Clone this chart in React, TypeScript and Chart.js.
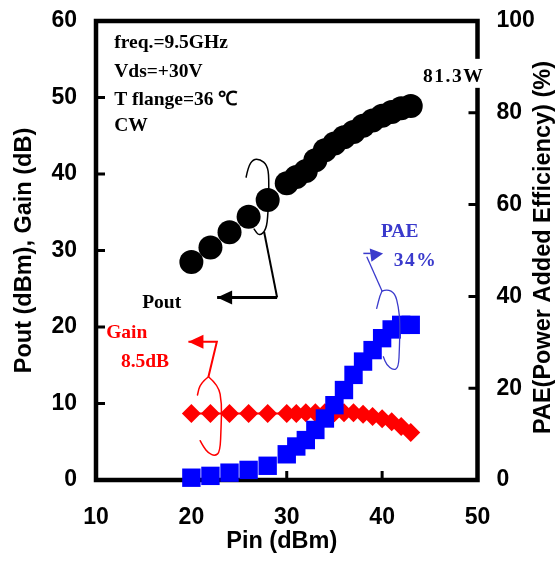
import React, { useEffect, useRef } from 'react';
import { Chart, registerables } from 'chart.js';

Chart.register(...registerables);

// ---------- data ----------
const pinDbm = [20, 22, 24, 26, 28, 30, 31, 32, 33, 34, 35, 36, 37, 38, 39, 40, 41, 42, 43];
const poutDbm = [28.5, 30.4, 32.4, 34.4, 36.6, 38.8, 39.6, 40.4, 41.8, 43.1, 44.0, 44.8, 45.5, 46.3, 47.0, 47.6, 48.1, 48.6, 48.9];
const gainDb = [8.7, 8.7, 8.7, 8.7, 8.7, 8.7, 8.7, 8.8, 8.8, 8.8, 8.8, 8.8, 8.8, 8.6, 8.3, 8.0, 7.6, 7.0, 6.2];
const paePct = [0.5, 0.9, 1.6, 2.2, 3.1, 5.6, 7.3, 8.7, 10.9, 13.4, 16.3, 19.6, 22.9, 25.8, 28.3, 30.9, 32.8, 33.8, 33.8];

const xTitle = 'Pin (dBm)';
const yTitle = 'Pout (dBm), Gain (dB)';
const y2Title = 'PAE(Power Added Efficiency) (%)';

// annotation texts: [text, x (dBm), y (left axis units), colour]
const infoLines = ['freq.=9.5GHz', 'Vds=+30V', 'T flange=36 ℃', 'CW'];
const infoX = 11.91;
const infoY = [57.17, 53.31, 49.72, 46.26];
type Txt = [string, number, number, string];
const labelTexts: Txt[] = [
  ['Pout', 14.84, 23.09, '#000000'],
  ['Gain', 11.07, 19.17, '#ff0000'],
  ['8.5dB', 12.61, 15.46, '#ff0000'],
  ['PAE', 39.87, 32.46, '#3a3acc'],
  ['34%', 41.21, 28.62, '#3a3acc'],
];
const powerLabel: Txt = ['81.3W', 44.29, 52.7, '#000000'];

// hand-drawn callouts, in data units (x: Pin dBm, y: left axis)
type P = [number, number];
const poutLoop: P[] = [[25.74, 39.59], [25.95, 40.9], [26.47, 41.94], [27.21, 41.94], [27.94, 41.16], [28.15, 39.59], [28.05, 34.89], [27.84, 32.67], [27.1, 31.88], [26.58, 32.8]];
const poutLeader: P[] = [[27.63, 32.41], [28.99, 23.85], [22.7, 23.85]];
const gainLeader: P[] = [[19.69, 18.07], [22.67, 18.07], [21.79, 13.5]];
const gainLoopA: P[] = [[21.79, 13.5], [20.92, 12.64], [20.64, 11.11]];
const gainLoopB: P[] = [[21.79, 13.5], [22.84, 12.41], [23.19, 10.02], [23.12, 6.96], [23.01, 3.7], [22.49, 3.14], [21.79, 3.49], [21.26, 4.35], [20.92, 5.14]];
const paeFlag: P[] = [[38.7, 30.27], [40.1, 29.62], [38.88, 28.52]];
const paeStem: P[] = [[38.03, 29.62], [38.8, 29.62]];
const paeLeader: P[] = [[38.39, 29.18], [39.99, 24.7]];
const paeLoopA: P[] = [[39.99, 24.7], [40.51, 24.96], [41.35, 24.43], [41.72, 22.61], [41.88, 20.51], [41.82, 17.38], [41.72, 14.63], [41.14, 14.37], [40.48, 15.03], [40.13, 16.11]];
const paeLoopB: P[] = [[39.99, 24.7], [39.78, 24.17], [39.43, 22.44]];

const SANS = '"Liberation Sans", Arial, sans-serif';
const SERIF = '"Liberation Serif", "Times New Roman", serif';

const decoPlugin = {
  id: 'deco',
  beforeDatasetsDraw(chart: any) {
    const { ctx, chartArea: a, scales } = chart;
    ctx.save();
    ctx.strokeStyle = '#000';
    ctx.lineWidth = 4.5;
    ctx.strokeRect(a.left, a.top, a.right - a.left, a.bottom - a.top);
    ctx.lineWidth = 3;
    const tl = 9;
    ctx.beginPath();
    for (const t of scales.y.ticks) {
      if (t.value <= scales.y.min || t.value >= scales.y.max) continue;
      const py = scales.y.getPixelForValue(t.value);
      ctx.moveTo(a.left, py); ctx.lineTo(a.left + tl, py);
    }
    for (const t of scales.y2.ticks) {
      if (t.value <= scales.y2.min || t.value >= scales.y2.max) continue;
      const py = scales.y2.getPixelForValue(t.value);
      ctx.moveTo(a.right, py); ctx.lineTo(a.right - tl, py);
    }
    for (const t of scales.x.ticks) {
      if (t.value <= scales.x.min || t.value >= scales.x.max) continue;
      const px = scales.x.getPixelForValue(t.value);
      ctx.moveTo(px, a.bottom); ctx.lineTo(px, a.bottom - tl);
    }
    ctx.stroke();

    // axis titles drawn by hand (right one reads bottom-to-top)
    ctx.fillStyle = '#000';
    ctx.font = `bold 23.5px ${SANS}`;
    ctx.textAlign = 'center';
    ctx.textBaseline = 'middle';
    ctx.fillText(xTitle, (a.left + a.right) / 2 - 5, 542);
    ctx.save();
    ctx.translate(543.5, (a.top + a.bottom) / 2 - 3);
    ctx.rotate(-Math.PI / 2);
    ctx.fillText(y2Title, 0, 0);
    ctx.restore();
    ctx.restore();
  },
  afterDatasetsDraw(chart: any) {
    const { ctx, scales } = chart;
    const px = (p: P): P => [scales.x.getPixelForValue(p[0]), scales.y.getPixelForValue(p[1])];
    const smooth = (pts: P[], color: string, w: number) => {
      const q = pts.map(px);
      ctx.beginPath();
      ctx.strokeStyle = color;
      ctx.lineWidth = w;
      ctx.lineJoin = 'round';
      ctx.lineCap = 'round';
      ctx.moveTo(q[0][0], q[0][1]);
      if (q.length < 3) {
        for (let i = 1; i < q.length; i++) ctx.lineTo(q[i][0], q[i][1]);
      } else {
        for (let i = 1; i < q.length - 1; i++) {
          const mx = (q[i][0] + q[i + 1][0]) / 2;
          const my = (q[i][1] + q[i + 1][1]) / 2;
          ctx.quadraticCurveTo(q[i][0], q[i][1], mx, my);
        }
        const l = q[q.length - 1];
        ctx.lineTo(l[0], l[1]);
      }
      ctx.stroke();
    };
    const poly = (pts: P[], color: string, w: number) => {
      const q = pts.map(px);
      ctx.beginPath();
      ctx.strokeStyle = color;
      ctx.lineWidth = w;
      ctx.lineJoin = 'miter';
      ctx.lineCap = 'butt';
      ctx.moveTo(q[0][0], q[0][1]);
      for (let i = 1; i < q.length; i++) ctx.lineTo(q[i][0], q[i][1]);
      ctx.stroke();
    };
    const headLeft = (tip: P, color: string) => {
      const [x, y] = px(tip);
      ctx.beginPath();
      ctx.fillStyle = color;
      ctx.moveTo(x, y);
      ctx.lineTo(x + 15, y - 7);
      ctx.lineTo(x + 15, y + 7);
      ctx.closePath();
      ctx.fill();
    };
    const fillPoly = (pts: P[], color: string) => {
      const q = pts.map(px);
      ctx.beginPath();
      ctx.fillStyle = color;
      ctx.moveTo(q[0][0], q[0][1]);
      for (let i = 1; i < q.length; i++) ctx.lineTo(q[i][0], q[i][1]);
      ctx.closePath();
      ctx.fill();
    };

    ctx.save();
    // Pout callout
    smooth(poutLoop, '#000', 1.5);
    poly(poutLeader.slice(0, 2), '#000', 2);
    poly(poutLeader.slice(1), '#000', 3);
    headLeft(poutLeader[2], '#000');
    // Gain callout
    poly(gainLeader, '#ff0000', 2);
    headLeft(gainLeader[0], '#ff0000');
    smooth(gainLoopA, '#ff0000', 1.5);
    smooth(gainLoopB, '#ff0000', 1.5);
    // PAE callout
    fillPoly(paeFlag, '#3a3acc');
    poly(paeStem, '#3a3acc', 1.5);
    poly(paeLeader, '#3a3acc', 1.3);
    smooth(paeLoopA, '#3a3acc', 1.3);
    smooth(paeLoopB, '#3a3acc', 1.3);

    // texts
    ctx.font = `bold 19.5px ${SERIF}`;
    ctx.textAlign = 'left';
    ctx.textBaseline = 'middle';
    ctx.fillStyle = '#000';
    infoLines.forEach((t, i) => {
      const [x, y] = px([infoX, infoY[i]]);
      ctx.fillText(t, x, y);
    });
    for (const [t, tx, ty, c] of labelTexts) {
      const [x, y] = px([tx, ty]);
      ctx.fillStyle = c;
      try { (ctx as any).letterSpacing = t === '34%' ? '1.5px' : '0px'; } catch (e) {}
      ctx.fillText(t, x, y);
    }
    // power label sits on a white box that breaks the frame
    {
      const [t, tx, ty, c] = powerLabel;
      const [x, y] = px([tx, ty]);
      try { (ctx as any).letterSpacing = '1.5px'; } catch (e) {}
      const w = ctx.measureText(t).width;
      ctx.fillStyle = '#ffffff';
      ctx.fillRect(x - 2, y - 18, w + 6, 29);
      ctx.fillStyle = c;
      ctx.fillText(t, x, y);
    }
    ctx.restore();
  },
};

export default function App() {
  const ref = useRef<HTMLCanvasElement | null>(null);
  useEffect(() => {
    if (!ref.current) return;
    const tickFont = { family: SANS, size: 23, weight: 'bold' as const };
    const titleFont = { family: SANS, size: 23.5, weight: 'bold' as const };
    const chart = new Chart(ref.current, {
      type: 'scatter',
      data: {
        datasets: [
          {
            label: 'PAE',
            data: pinDbm.map((x, i) => ({ x, y: paePct[i] })),
            yAxisID: 'y2',
            showLine: false,
            pointStyle: 'rect',
            pointRadius: 13,
            pointBorderWidth: 0,
            backgroundColor: '#0000ff',
            borderColor: '#0000ff',
            order: 0,
            clip: false,
          } as any,
          {
            label: 'Gain',
            data: pinDbm.map((x, i) => ({ x, y: gainDb[i] })),
            yAxisID: 'y',
            showLine: true,
            borderColor: '#ff0000',
            borderWidth: 2,
            pointStyle: 'rectRot',
            pointRadius: 9.5,
            pointBorderWidth: 0,
            backgroundColor: '#ff0000',
            order: 1,
            clip: false,
          } as any,
          {
            label: 'Pout',
            data: pinDbm.map((x, i) => ({ x, y: poutDbm[i] })),
            yAxisID: 'y',
            showLine: false,
            pointStyle: 'circle',
            pointRadius: 12,
            pointBorderWidth: 0,
            backgroundColor: '#000000',
            borderColor: '#000000',
            order: 2,
            clip: false,
          } as any,
        ],
      },
      options: {
        responsive: false,
        maintainAspectRatio: false,
        animation: false,
        layout: { padding: { top: 21, left: 0, right: 0, bottom: 0 } },
        plugins: { legend: { display: false }, tooltip: { enabled: false } },
        scales: {
          x: {
            type: 'linear',
            min: 10,
            max: 50,
            ticks: { stepSize: 10, padding: 24, font: tickFont, color: '#000', maxRotation: 0 },
            grid: { display: false, drawTicks: false, tickLength: 0 },
            border: { display: false },
            title: { display: false, text: xTitle },
            afterFit: (s: any) => { s.height = 82; s.paddingLeft = 0; s.paddingRight = 0; },
          },
          y: {
            type: 'linear',
            position: 'left',
            min: 0,
            max: 60,
            ticks: { stepSize: 10, padding: 19, font: tickFont, color: '#000' },
            grid: { display: false, drawTicks: false, tickLength: 0 },
            border: { display: false },
            title: { display: true, text: yTitle, font: titleFont, color: '#000', padding: { top: 10, bottom: 0 } },
            afterFit: (s: any) => { s.width = 96; s.paddingTop = 0; s.paddingBottom = 0; },
          },
          y2: {
            type: 'linear',
            position: 'right',
            min: 0,
            max: 100,
            ticks: { stepSize: 20, padding: 19, font: tickFont, color: '#000' },
            grid: { display: false, drawTicks: false, tickLength: 0 },
            border: { display: false },
            title: { display: false, text: y2Title },
            afterFit: (s: any) => { s.width = 79.5; s.paddingTop = 0; s.paddingBottom = 0; },
          },
        },
      } as any,
      plugins: [decoPlugin],
    });
    return () => chart.destroy();
  }, []);
  return (
    <div style={{ position: 'absolute', left: 0, top: 0, width: 557, height: 562, background: '#fff' }}>
      <canvas ref={ref} width={557} height={562} style={{ display: 'block' }} />
    </div>
  );
}
